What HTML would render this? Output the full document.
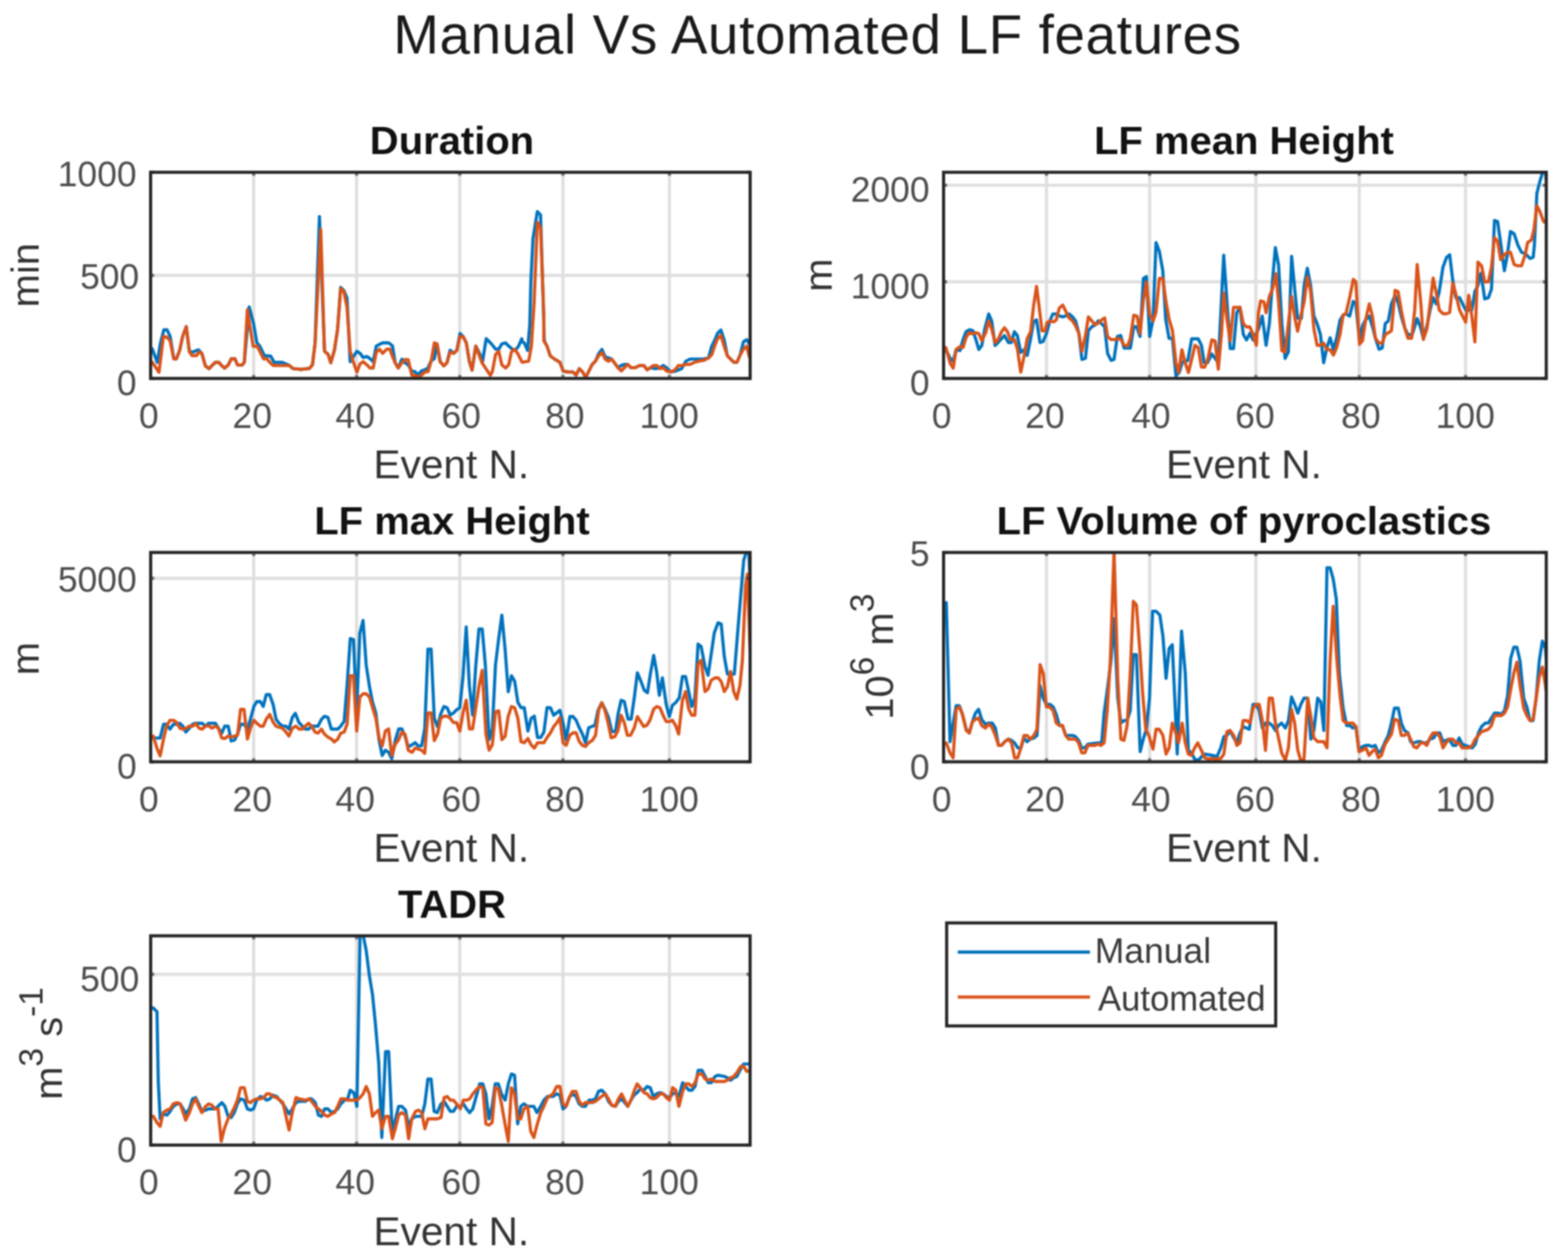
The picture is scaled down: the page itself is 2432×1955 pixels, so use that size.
<!DOCTYPE html>
<html><head><meta charset="utf-8"><title>Manual Vs Automated LF features</title>
<style>html,body{margin:0;padding:0;background:#fff;}svg{display:block;filter:blur(0.9px);}</style></head>
<body>
<svg width="2432" height="1955" viewBox="0 0 2432 1955">
<rect width="2432" height="1955" fill="#fff"/>
<defs>
<clipPath id="cp1"><rect x="233.6" y="267.3" width="929.9" height="319.90000000000003"/></clipPath>
<clipPath id="cp2"><rect x="1463.5" y="267.3" width="934.8000000000002" height="319.90000000000003"/></clipPath>
<clipPath id="cp3"><rect x="233.7" y="857.2" width="929.7" height="324.79999999999995"/></clipPath>
<clipPath id="cp4"><rect x="1463.5" y="857.2" width="934.8000000000002" height="324.79999999999995"/></clipPath>
<clipPath id="cp5"><rect x="233.7" y="1452.0" width="929.7" height="324.70000000000005"/></clipPath>
</defs>
<text x="1268" y="83" font-size="85" text-anchor="middle" font-weight="normal" fill="#1a1a1a" font-family="Liberation Sans, Arial, Helvetica, sans-serif" letter-spacing="1">Manual Vs Automated LF features</text>
<path d="M393.5 267.3V587.2M553.1 267.3V587.2M713.1 267.3V587.2M873.1 267.3V587.2M1038.3 267.3V587.2M233.6 427.3H1163.5" stroke="#262626" stroke-opacity="0.15" stroke-width="4.86" fill="none"/>
<g clip-path="url(#cp1)" fill="none" stroke-width="4.9" stroke-linejoin="round" stroke-linecap="round">
<path d="M236.2 541.4 L243.9 562.2 L248.7 533.1 L254.2 511.7 L259.1 511.7 L263.9 522.0 L269.5 556.7 L273.6 556.7 L278.5 544.2 L283.3 522.0 L288.9 506.8 L293.7 545.6 L299.3 546.3 L307.6 542.8 L313.1 548.4 L318.6 567.8 L324.2 571.9 L329.0 567.1 L333.9 562.2 L339.4 562.2 L343.6 567.1 L348.4 571.2 L354.0 566.4 L358.8 556.7 L364.3 556.7 L368.5 566.4 L375.4 566.4 L378.9 562.2 L386.5 476.3 L393.4 502.7 L398.3 531.7 L403.1 537.3 L410.1 551.8 L419.8 552.5 L425.3 562.2 L437.8 562.2 L448.8 567.1 L454.4 571.9 L468.2 573.3 L470.0 572.6 L479.7 571.8 L484.6 566.1 L488.7 532.0 L495.5 336.0 L503.3 545.0 L509.0 549.9 L513.0 562.9 L518.7 543.4 L523.6 510.9 L528.4 446.0 L533.3 450.8 L538.2 462.2 L543.1 561.2 L553.6 545.0 L558.5 548.2 L563.3 554.7 L569.0 553.1 L573.9 556.4 L578.8 561.2 L583.6 536.9 L593.4 532.0 L603.1 532.0 L608.8 536.9 L612.9 562.9 L617.7 571.0 L623.4 557.2 L628.3 562.9 L633.1 566.1 L638.8 575.8 L643.7 576.7 L648.6 581.5 L653.4 575.8 L663.2 571.8 L668.9 559.6 L673.7 556.4 L677.8 533.6 L682.7 561.2 L688.3 567.7 L693.2 562.9 L698.1 543.4 L703.8 548.2 L708.6 543.4 L713.5 517.4 L718.4 522.3 L723.2 532.0 L728.1 561.2 L732.2 574.2 L737.9 536.9 L744.4 549.9 L748.4 561.2 L754.1 525.5 L762.2 533.6 L768.7 541.8 L773.6 541.8 L778.4 533.6 L784.1 532.0 L789.0 536.9 L794.7 541.8 L799.5 543.4 L804.4 536.9 L809.3 525.5 L810.0 530.4 L813.3 532.1 L818.3 543.7 L821.7 503.7 L823.4 436.9 L826.7 370.1 L833.4 328.3 L838.4 333.4 L842.6 470.3 L844.2 528.7 L848.4 537.1 L853.4 552.1 L860.1 557.1 L868.4 562.1 L873.4 575.5 L880.1 577.1 L888.5 577.1 L893.5 582.1 L898.5 572.1 L903.5 577.1 L908.5 585.5 L913.5 575.5 L918.5 565.4 L923.5 560.4 L928.6 548.8 L933.6 542.1 L938.6 553.8 L943.6 555.4 L948.6 557.1 L953.6 563.8 L958.6 570.5 L963.6 567.1 L968.6 565.4 L973.6 565.4 L978.6 570.5 L985.3 570.5 L992.0 567.1 L998.7 567.1 L1003.7 573.8 L1008.7 570.5 L1017.0 572.1 L1023.7 570.5 L1028.7 567.1 L1033.7 570.5 L1040.4 577.1 L1048.8 575.5 L1057.1 572.1 L1063.8 560.4 L1070.5 557.1 L1080.5 557.1 L1090.5 557.1 L1098.9 555.4 L1103.9 537.1 L1108.9 527.0 L1113.1 517.0 L1118.1 512.0 L1123.1 527.0 L1128.1 552.1 L1133.1 557.1 L1138.1 562.1 L1143.1 562.1 L1148.1 550.4 L1153.1 530.4 L1158.1 527.0 L1162.3 533.7" stroke="#0072BD"/>
<path d="M236.2 562.2 L246.6 577.5 L253.5 522.0 L259.1 523.4 L263.9 529.0 L269.5 556.7 L273.6 556.7 L278.5 544.2 L283.3 522.0 L288.9 506.8 L293.7 545.6 L297.9 551.8 L304.8 551.8 L308.9 546.3 L313.1 548.4 L318.6 567.8 L324.2 571.9 L329.0 567.1 L333.9 562.2 L339.4 562.2 L343.6 567.1 L348.4 571.2 L354.0 566.4 L358.8 556.7 L364.3 556.7 L368.5 566.4 L375.4 566.4 L378.9 562.2 L383.7 480.5 L388.6 512.4 L392.7 537.3 L399.0 537.3 L403.8 547.0 L408.7 556.7 L414.2 556.7 L418.4 562.2 L423.9 567.1 L448.8 567.1 L454.4 571.9 L468.2 573.3 L470.0 572.6 L479.7 571.8 L484.6 566.1 L488.7 533.6 L497.5 356.0 L503.3 545.0 L509.0 549.9 L513.0 562.9 L518.7 543.4 L523.6 510.9 L528.4 447.6 L533.3 452.5 L538.2 476.8 L543.1 545.0 L547.9 561.2 L553.6 577.5 L558.5 564.5 L563.3 561.2 L569.0 566.1 L573.9 571.0 L578.8 571.0 L583.6 546.6 L588.5 541.8 L593.4 548.2 L599.9 541.8 L604.7 541.8 L608.8 553.1 L612.9 562.9 L617.7 571.0 L623.4 562.9 L628.3 558.0 L633.1 558.0 L638.8 582.3 L643.7 582.3 L648.6 585.6 L653.4 582.3 L659.9 576.7 L664.0 576.7 L668.9 559.6 L673.7 532.0 L677.8 533.6 L682.7 561.2 L688.3 567.7 L693.2 562.9 L698.1 546.6 L703.8 548.2 L708.6 543.4 L713.5 522.3 L718.4 522.3 L723.2 532.0 L728.1 561.2 L732.2 574.2 L737.9 536.9 L742.7 549.9 L747.6 562.9 L754.1 572.6 L760.6 582.3 L763.8 575.8 L768.7 549.9 L773.6 545.0 L778.4 566.1 L784.1 571.0 L789.0 566.1 L793.1 546.6 L797.9 541.8 L802.8 548.2 L809.3 561.2 L810.0 562.1 L820.0 560.4 L824.2 537.1 L828.4 470.3 L833.4 345.0 L838.4 353.4 L843.4 487.0 L843.4 528.7 L848.4 537.1 L853.4 552.1 L860.1 557.1 L868.4 562.1 L873.4 575.5 L880.1 577.1 L888.5 577.1 L893.5 582.1 L898.5 572.1 L903.5 577.1 L908.5 585.5 L913.5 575.5 L918.5 565.4 L923.5 560.4 L928.6 552.1 L933.6 547.1 L938.6 557.1 L943.6 560.4 L948.6 557.1 L953.6 563.8 L958.6 570.5 L963.6 575.5 L968.6 570.5 L973.6 565.4 L978.6 570.5 L985.3 570.5 L992.0 567.1 L998.7 567.1 L1003.7 573.8 L1008.7 570.5 L1013.7 567.1 L1018.7 567.1 L1023.7 572.1 L1028.7 570.5 L1033.7 575.5 L1040.4 577.1 L1047.1 573.8 L1052.1 567.1 L1058.8 567.1 L1063.8 565.4 L1070.5 565.4 L1077.2 562.1 L1083.8 560.4 L1092.2 558.8 L1098.9 555.4 L1103.9 550.4 L1108.9 535.4 L1113.1 525.4 L1118.1 520.4 L1123.1 537.1 L1128.1 552.1 L1133.1 557.1 L1138.1 562.1 L1143.1 562.1 L1148.1 550.4 L1153.1 542.1 L1158.1 537.1 L1162.3 553.8" stroke="#D95319"/>
</g>
<path d="M393.5 267.3v5.5M393.5 587.2v-5.5M553.1 267.3v5.5M553.1 587.2v-5.5M713.1 267.3v5.5M713.1 587.2v-5.5M873.1 267.3v5.5M873.1 587.2v-5.5M1038.3 267.3v5.5M1038.3 587.2v-5.5M233.6 267.3h5.5M1163.5 267.3h-5.5M233.6 427.3h5.5M1163.5 427.3h-5.5M233.6 587.2h5.5M1163.5 587.2h-5.5" stroke="#262626" stroke-opacity="0.6" stroke-width="4.86" fill="none"/>
<rect x="233.6" y="267.3" width="929.9" height="319.90000000000003" fill="none" stroke="#262626" stroke-width="4.86"/>
<text x="211.9" y="288.5" font-size="55" text-anchor="end" font-weight="normal" fill="#4d4d4d" font-family="Liberation Sans, Arial, Helvetica, sans-serif" >1000</text>
<text x="215.9" y="448.3" font-size="55" text-anchor="end" font-weight="normal" fill="#4d4d4d" font-family="Liberation Sans, Arial, Helvetica, sans-serif" >500</text>
<text x="211.9" y="612.5" font-size="55" text-anchor="end" font-weight="normal" fill="#4d4d4d" font-family="Liberation Sans, Arial, Helvetica, sans-serif" >0</text>
<text x="230.9" y="663.7" font-size="55" text-anchor="middle" font-weight="normal" fill="#4d4d4d" font-family="Liberation Sans, Arial, Helvetica, sans-serif" >0</text>
<text x="391.2" y="663.7" font-size="55" text-anchor="middle" font-weight="normal" fill="#4d4d4d" font-family="Liberation Sans, Arial, Helvetica, sans-serif" >20</text>
<text x="550.9" y="663.7" font-size="55" text-anchor="middle" font-weight="normal" fill="#4d4d4d" font-family="Liberation Sans, Arial, Helvetica, sans-serif" >40</text>
<text x="715.3" y="663.7" font-size="55" text-anchor="middle" font-weight="normal" fill="#4d4d4d" font-family="Liberation Sans, Arial, Helvetica, sans-serif" >60</text>
<text x="876" y="663.7" font-size="55" text-anchor="middle" font-weight="normal" fill="#4d4d4d" font-family="Liberation Sans, Arial, Helvetica, sans-serif" >80</text>
<text x="1038" y="663.7" font-size="55" text-anchor="middle" font-weight="normal" fill="#4d4d4d" font-family="Liberation Sans, Arial, Helvetica, sans-serif" >100</text>
<text x="700.05" y="742.2" font-size="63" text-anchor="middle" font-weight="normal" fill="#333" font-family="Liberation Sans, Arial, Helvetica, sans-serif" >Event N.</text>
<text x="701.05" y="238.8" font-size="62" text-anchor="middle" font-weight="bold" fill="#111" font-family="Liberation Sans, Arial, Helvetica, sans-serif" >Duration</text>
<text transform="translate(60 427) rotate(-90)" font-size="62" text-anchor="middle" fill="#333" font-family="Liberation Sans, Arial, Helvetica, sans-serif">min</text>
<path d="M1623.1 267.3V587.2M1783.1 267.3V587.2M1947.9 267.3V587.2M2108.3 267.3V587.2M2273.1 267.3V587.2M1463.5 287.4H2398.3M1463.5 437.3H2398.3" stroke="#262626" stroke-opacity="0.15" stroke-width="4.86" fill="none"/>
<g clip-path="url(#cp2)" fill="none" stroke-width="4.9" stroke-linejoin="round" stroke-linecap="round">
<path d="M1466.9 542.3 L1473.8 556.0 L1478.4 560.6 L1483.0 542.3 L1489.1 543.8 L1493.7 526.9 L1498.3 514.7 L1503.6 511.6 L1509.0 513.2 L1513.6 526.9 L1518.2 542.3 L1522.8 536.1 L1527.4 510.1 L1533.5 487.1 L1538.1 497.9 L1543.4 536.1 L1548.0 531.5 L1553.4 525.4 L1558.0 520.8 L1564.1 531.5 L1568.7 531.5 L1573.3 514.7 L1577.9 520.8 L1583.2 546.8 L1588.6 542.3 L1593.2 551.4 L1598.5 525.4 L1603.1 499.4 L1607.7 496.3 L1613.1 531.5 L1617.7 530.0 L1623.0 517.8 L1628.4 497.9 L1633.0 487.1 L1638.3 487.1 L1642.9 490.2 L1648.3 491.7 L1652.9 490.2 L1658.2 487.1 L1663.6 491.7 L1668.2 497.9 L1673.5 517.8 L1678.1 557.6 L1683.5 556.0 L1688.1 513.2 L1693.4 507.0 L1698.8 504.0 L1703.4 497.9 L1708.7 502.5 L1713.3 507.0 L1717.9 548.4 L1723.3 559.1 L1727.9 557.6 L1733.0 522.0 L1738.2 520.5 L1743.5 540.0 L1748.7 540.0 L1753.2 540.0 L1758.5 507.0 L1763.0 507.0 L1768.2 522.0 L1773.5 432.0 L1778.0 429.0 L1783.2 522.0 L1788.5 495.0 L1793.0 376.5 L1798.2 390.0 L1803.5 420.0 L1808.0 495.0 L1813.2 525.0 L1818.5 525.0 L1823.9 583.0 L1829.0 578.0 L1834.0 561.1 L1842.4 559.4 L1848.3 525.7 L1858.4 525.7 L1863.5 535.8 L1867.7 562.8 L1872.8 562.8 L1879.5 549.3 L1884.6 556.1 L1889.6 562.8 L1898.0 396.0 L1903.1 468.5 L1908.1 540.9 L1913.2 540.9 L1918.2 485.3 L1923.3 476.9 L1928.4 519.0 L1933.4 527.4 L1938.5 517.3 L1943.5 527.4 L1951.9 510.6 L1957.8 490.4 L1963.7 535.8 L1968.8 502.2 L1973.8 434.8 L1978.1 384.2 L1983.1 411.2 L1988.2 502.2 L1993.2 556.1 L1998.3 546.0 L2003.3 397.7 L2008.4 451.6 L2012.6 493.7 L2018.5 493.7 L2022.7 443.2 L2027.7 416.2 L2032.8 443.2 L2037.9 490.4 L2042.9 502.2 L2048.0 519.0 L2053.0 562.8 L2058.1 539.2 L2063.1 524.1 L2068.2 542.6 L2073.2 524.1 L2078.3 497.1 L2083.3 488.7 L2087.6 486.7 L2093.3 490.5 L2099.0 467.7 L2102.9 471.5 L2108.6 528.6 L2113.3 505.7 L2118.1 496.2 L2123.8 490.5 L2129.5 509.5 L2133.3 524.8 L2139.0 541.9 L2143.8 540.0 L2148.6 501.9 L2153.3 498.1 L2158.1 471.5 L2163.8 458.1 L2168.5 469.6 L2173.3 490.5 L2179.0 509.5 L2183.8 519.1 L2190.4 519.1 L2198.1 494.3 L2203.8 509.5 L2207.6 524.8 L2213.3 505.7 L2218.1 481.0 L2222.8 461.9 L2227.6 471.5 L2232.3 452.4 L2238.1 414.3 L2243.8 399.1 L2248.5 395.3 L2253.3 435.3 L2258.0 461.9 L2263.8 461.9 L2268.5 471.5 L2273.3 481.0 L2278.0 481.0 L2282.8 481.0 L2287.6 452.4 L2292.3 442.9 L2297.1 423.9 L2302.8 463.8 L2308.5 461.9 L2313.3 448.6 L2318.0 342.0 L2322.8 343.9 L2327.5 376.3 L2333.3 420.1 L2338.0 395.3 L2342.8 359.1 L2348.5 362.9 L2354.2 380.1 L2359.9 391.5 L2365.6 393.4 L2373.2 401.0 L2378.0 399.1 L2379.9 380.1 L2383.7 300.1 L2388.5 281.0 L2393.2 265.8 L2397.1 265.8 L2399.9 303.9" stroke="#0072BD"/>
<path d="M1466.9 539.2 L1473.8 563.7 L1478.4 571.3 L1483.0 542.3 L1489.1 537.7 L1493.7 539.2 L1498.3 523.9 L1502.9 516.2 L1509.0 517.8 L1513.6 516.2 L1518.2 517.8 L1522.8 528.5 L1528.9 516.2 L1533.5 497.9 L1538.1 510.1 L1543.4 531.5 L1548.0 526.9 L1553.4 514.7 L1558.0 508.6 L1562.6 514.7 L1567.1 526.9 L1573.3 526.9 L1577.9 540.7 L1583.2 577.5 L1588.6 551.4 L1593.2 525.4 L1598.5 514.7 L1603.1 474.9 L1607.7 444.3 L1613.1 487.1 L1616.1 513.2 L1620.7 513.2 L1623.8 500.9 L1628.4 497.9 L1634.5 499.4 L1638.3 496.3 L1642.9 478.0 L1648.3 473.4 L1652.9 482.6 L1658.2 493.3 L1663.6 497.9 L1668.2 505.5 L1673.5 517.8 L1678.1 545.3 L1683.5 520.8 L1688.1 491.7 L1693.4 497.9 L1698.8 504.0 L1704.1 500.9 L1708.7 496.3 L1713.3 493.3 L1717.9 522.4 L1723.3 526.9 L1729.4 526.9 L1733.0 525.0 L1738.2 526.5 L1743.5 535.5 L1748.7 537.0 L1753.2 525.0 L1758.5 489.0 L1763.7 490.5 L1768.2 517.5 L1773.5 465.0 L1778.0 438.0 L1783.2 487.5 L1788.5 498.0 L1793.0 484.5 L1798.2 432.0 L1803.5 432.0 L1808.0 465.0 L1813.2 495.0 L1818.5 513.0 L1823.9 562.8 L1828.1 578.0 L1833.2 542.6 L1838.2 562.8 L1843.3 578.0 L1848.3 557.7 L1853.4 535.8 L1858.4 539.2 L1863.5 569.5 L1868.6 569.5 L1873.6 556.1 L1879.5 527.4 L1884.6 529.1 L1889.6 572.9 L1894.7 515.6 L1898.0 455.0 L1903.1 495.4 L1908.1 529.1 L1913.2 476.9 L1918.2 476.9 L1923.3 476.9 L1928.4 502.2 L1933.4 507.2 L1938.5 507.2 L1943.5 519.0 L1948.6 535.8 L1951.9 485.3 L1955.3 466.8 L1960.4 468.5 L1963.7 485.3 L1968.8 460.0 L1973.8 448.2 L1978.9 424.7 L1983.1 468.5 L1988.2 544.3 L1993.2 546.0 L1998.3 502.2 L2003.3 460.0 L2008.4 493.7 L2012.6 513.9 L2017.6 490.4 L2022.7 468.5 L2027.7 429.7 L2032.8 451.6 L2037.9 510.6 L2042.9 535.8 L2048.0 535.8 L2053.0 532.5 L2058.1 542.6 L2063.1 542.6 L2068.2 551.0 L2073.2 539.2 L2078.3 519.0 L2083.3 488.7 L2087.6 486.7 L2093.3 461.9 L2099.0 433.4 L2102.9 437.2 L2108.6 534.3 L2113.3 528.6 L2118.1 496.2 L2123.8 471.5 L2128.6 490.5 L2133.3 524.8 L2139.0 532.4 L2143.8 532.4 L2148.6 519.1 L2158.1 513.4 L2163.8 450.5 L2168.5 452.4 L2173.3 481.0 L2179.0 509.5 L2183.8 524.8 L2189.5 524.8 L2194.3 481.0 L2198.1 410.5 L2203.8 471.5 L2207.6 526.7 L2213.3 509.5 L2218.1 471.5 L2222.8 431.5 L2227.6 454.3 L2232.3 481.0 L2238.1 486.7 L2243.8 486.7 L2248.5 484.8 L2253.3 439.1 L2258.0 456.2 L2263.8 481.0 L2268.5 490.5 L2273.3 500.0 L2278.0 458.1 L2282.8 490.5 L2287.6 530.5 L2292.3 406.7 L2298.0 412.4 L2302.8 437.2 L2308.5 437.2 L2313.3 414.3 L2318.0 368.6 L2322.8 374.3 L2327.5 402.9 L2333.3 395.3 L2338.0 391.5 L2342.8 391.5 L2348.5 410.5 L2354.2 412.4 L2359.9 412.4 L2365.6 395.3 L2369.4 376.3 L2375.2 372.4 L2379.0 357.2 L2383.7 319.1 L2388.5 328.6 L2394.2 343.9 L2399.0 345.8" stroke="#D95319"/>
</g>
<path d="M1623.1 267.3v5.5M1623.1 587.2v-5.5M1783.1 267.3v5.5M1783.1 587.2v-5.5M1947.9 267.3v5.5M1947.9 587.2v-5.5M2108.3 267.3v5.5M2108.3 587.2v-5.5M2273.1 267.3v5.5M2273.1 587.2v-5.5M1463.5 287.4h5.5M2398.3 287.4h-5.5M1463.5 437.3h5.5M2398.3 437.3h-5.5M1463.5 587.2h5.5M2398.3 587.2h-5.5" stroke="#262626" stroke-opacity="0.6" stroke-width="4.86" fill="none"/>
<rect x="1463.5" y="267.3" width="934.8000000000002" height="319.90000000000003" fill="none" stroke="#262626" stroke-width="4.86"/>
<text x="1441.8" y="313.3" font-size="55" text-anchor="end" font-weight="normal" fill="#4d4d4d" font-family="Liberation Sans, Arial, Helvetica, sans-serif" >2000</text>
<text x="1441.8" y="463.3" font-size="55" text-anchor="end" font-weight="normal" fill="#4d4d4d" font-family="Liberation Sans, Arial, Helvetica, sans-serif" >1000</text>
<text x="1441.8" y="612.5" font-size="55" text-anchor="end" font-weight="normal" fill="#4d4d4d" font-family="Liberation Sans, Arial, Helvetica, sans-serif" >0</text>
<text x="1460.6" y="663.7" font-size="55" text-anchor="middle" font-weight="normal" fill="#4d4d4d" font-family="Liberation Sans, Arial, Helvetica, sans-serif" >0</text>
<text x="1620.7" y="663.7" font-size="55" text-anchor="middle" font-weight="normal" fill="#4d4d4d" font-family="Liberation Sans, Arial, Helvetica, sans-serif" >20</text>
<text x="1785" y="663.7" font-size="55" text-anchor="middle" font-weight="normal" fill="#4d4d4d" font-family="Liberation Sans, Arial, Helvetica, sans-serif" >40</text>
<text x="1946.4" y="663.7" font-size="55" text-anchor="middle" font-weight="normal" fill="#4d4d4d" font-family="Liberation Sans, Arial, Helvetica, sans-serif" >60</text>
<text x="2110.7" y="663.7" font-size="55" text-anchor="middle" font-weight="normal" fill="#4d4d4d" font-family="Liberation Sans, Arial, Helvetica, sans-serif" >80</text>
<text x="2272.6" y="663.7" font-size="55" text-anchor="middle" font-weight="normal" fill="#4d4d4d" font-family="Liberation Sans, Arial, Helvetica, sans-serif" >100</text>
<text x="1929.4" y="742.2" font-size="63" text-anchor="middle" font-weight="normal" fill="#333" font-family="Liberation Sans, Arial, Helvetica, sans-serif" >Event N.</text>
<text x="1929.4" y="238.8" font-size="62" text-anchor="middle" font-weight="bold" fill="#111" font-family="Liberation Sans, Arial, Helvetica, sans-serif" >LF mean Height</text>
<text transform="translate(1290 427) rotate(-90)" font-size="62" text-anchor="middle" fill="#333" font-family="Liberation Sans, Arial, Helvetica, sans-serif">m</text>
<path d="M393.5 857.2V1182.0M553.1 857.2V1182.0M713.1 857.2V1182.0M873.1 857.2V1182.0M1038.3 857.2V1182.0M233.7 897.3H1163.4" stroke="#262626" stroke-opacity="0.15" stroke-width="4.86" fill="none"/>
<g clip-path="url(#cp3)" fill="none" stroke-width="4.9" stroke-linejoin="round" stroke-linecap="round">
<path d="M237.7 1145.1 L248.4 1145.1 L253.7 1123.7 L258.3 1123.7 L263.7 1131.3 L269.0 1123.7 L273.6 1123.7 L279.0 1122.2 L283.6 1126.7 L288.2 1135.9 L293.5 1129.8 L298.9 1123.7 L303.5 1122.2 L313.4 1122.2 L318.8 1126.7 L323.4 1122.2 L334.1 1122.2 L338.7 1129.8 L344.0 1137.5 L348.6 1126.7 L354.0 1126.7 L358.6 1149.7 L363.9 1148.2 L368.5 1139.0 L373.1 1123.7 L378.5 1123.7 L383.8 1131.3 L388.4 1116.0 L393.8 1096.1 L398.4 1088.5 L403.7 1088.5 L408.3 1096.1 L412.9 1077.8 L418.3 1077.8 L423.6 1093.1 L428.2 1116.0 L432.8 1122.2 L438.2 1126.7 L443.5 1126.7 L448.1 1131.3 L453.5 1113.0 L458.1 1106.8 L463.4 1120.6 L468.8 1126.7 L473.4 1131.3 L478.7 1131.3 L483.3 1126.7 L493.3 1126.7 L498.6 1116.0 L503.2 1111.4 L508.6 1113.0 L513.9 1131.3 L523.9 1131.3 L528.5 1126.7 L533.8 1119.1 L538.4 1062.5 L543.3 990.7 L548.2 992.4 L553.2 1102.9 L558.1 982.5 L563.1 962.7 L568.0 1032.0 L573.0 1065.0 L577.9 1089.7 L582.9 1106.2 L587.8 1147.5 L592.8 1172.2 L597.7 1164.0 L602.7 1167.3 L607.6 1177.2 L613.4 1147.5 L618.4 1131.0 L623.3 1131.0 L628.3 1142.5 L633.2 1159.0 L639.0 1155.7 L643.9 1152.4 L648.9 1157.4 L653.8 1157.4 L658.8 1131.0 L663.7 1007.2 L668.7 1007.2 L673.6 1114.5 L678.6 1127.7 L683.5 1107.9 L688.5 1096.3 L693.4 1098.0 L698.4 1109.5 L703.3 1106.2 L708.3 1101.3 L713.2 1098.0 L718.2 1048.5 L723.1 972.6 L728.1 1065.0 L733.0 1109.5 L738.0 1032.0 L742.9 975.9 L747.9 975.9 L752.8 1032.0 L758.6 1147.5 L763.6 1131.0 L768.5 1032.0 L773.5 990.7 L778.4 954.4 L783.4 1007.2 L788.3 1073.2 L793.3 1048.5 L798.2 1056.7 L803.2 1089.7 L808.1 1098.0 L813.1 1098.0 L818.8 1134.3 L823.8 1114.5 L828.7 1111.2 L833.7 1144.2 L838.6 1144.2 L843.6 1135.9 L848.5 1098.0 L853.9 1098.2 L858.7 1109.8 L863.6 1106.0 L868.4 1102.1 L873.3 1121.5 L878.1 1148.6 L883.9 1111.8 L888.8 1111.8 L893.6 1117.6 L898.5 1129.2 L903.3 1138.9 L908.2 1152.5 L913.0 1129.2 L917.9 1127.3 L922.7 1125.4 L927.6 1102.1 L933.4 1090.4 L939.2 1102.1 L944.0 1113.7 L948.9 1135.0 L954.7 1135.0 L958.6 1107.9 L963.4 1086.6 L968.3 1088.5 L974.1 1115.7 L979.0 1115.7 L983.8 1082.7 L988.6 1043.9 L993.5 1055.5 L999.3 1071.1 L1004.2 1074.9 L1009.0 1043.9 L1013.9 1016.8 L1018.7 1043.9 L1022.6 1078.8 L1027.4 1051.7 L1033.2 1092.4 L1038.1 1111.8 L1042.9 1094.3 L1047.8 1090.4 L1053.6 1082.7 L1058.5 1049.7 L1063.3 1049.7 L1068.2 1073.0 L1073.0 1096.3 L1077.8 1082.7 L1082.7 999.3 L1087.5 1003.2 L1093.4 1034.2 L1098.2 1047.8 L1103.1 1014.8 L1107.9 981.9 L1113.7 966.3 L1118.6 968.3 L1123.4 1018.7 L1128.3 1045.9 L1133.1 1045.9 L1138.9 1045.9 L1143.8 985.7 L1148.6 927.6 L1153.5 869.4 L1158.3 853.9 L1161.2 850.0 L1165.1 945.0" stroke="#0072BD"/>
<path d="M237.7 1142.1 L243.8 1162.0 L248.4 1172.7 L253.7 1146.6 L258.3 1126.7 L263.7 1117.6 L269.0 1117.6 L273.6 1120.6 L279.0 1129.8 L283.6 1131.3 L288.9 1129.8 L293.5 1126.7 L298.9 1126.7 L303.5 1122.9 L308.8 1129.8 L313.4 1131.3 L318.8 1126.7 L323.4 1126.0 L328.7 1129.8 L334.1 1126.7 L338.7 1129.8 L344.0 1145.1 L348.6 1145.9 L354.0 1142.1 L358.6 1143.6 L363.9 1142.1 L368.5 1140.5 L373.1 1100.7 L378.5 1100.7 L383.8 1146.6 L388.4 1129.8 L393.8 1117.6 L398.4 1122.2 L403.7 1126.7 L408.3 1126.7 L412.9 1116.0 L418.3 1108.4 L423.6 1120.6 L428.2 1126.7 L432.8 1128.3 L438.2 1129.8 L443.5 1135.9 L448.1 1142.1 L453.5 1129.8 L458.8 1126.7 L464.2 1131.3 L468.8 1131.3 L473.4 1126.7 L478.7 1122.2 L483.3 1126.7 L488.7 1135.9 L493.3 1137.5 L498.6 1131.3 L503.2 1139.0 L508.6 1143.6 L513.9 1146.6 L518.5 1151.2 L523.9 1146.6 L528.5 1137.5 L533.8 1135.9 L538.4 1123.7 L543.3 1048.5 L548.2 1048.5 L553.2 1134.3 L558.1 1081.5 L563.1 1076.5 L568.0 1076.5 L573.0 1081.5 L577.9 1098.0 L582.9 1114.5 L587.8 1144.2 L592.8 1157.4 L597.7 1134.3 L602.7 1131.0 L607.6 1172.2 L612.6 1155.7 L618.4 1147.5 L623.3 1135.9 L628.3 1139.2 L633.2 1164.0 L639.0 1167.3 L643.9 1160.7 L648.9 1162.3 L653.8 1164.0 L658.8 1168.9 L663.7 1106.2 L668.7 1106.2 L673.6 1149.1 L678.6 1139.2 L683.5 1114.5 L688.5 1111.2 L693.4 1111.2 L698.4 1114.5 L703.3 1121.1 L708.3 1121.1 L713.2 1134.3 L718.2 1106.2 L723.1 1086.4 L728.1 1131.0 L733.0 1131.0 L738.0 1098.0 L742.9 1065.0 L747.9 1040.2 L753.7 1139.2 L758.6 1164.0 L763.6 1155.7 L768.5 1104.6 L773.5 1102.9 L778.4 1147.5 L783.4 1142.5 L788.3 1111.2 L793.3 1096.3 L798.2 1098.0 L803.2 1114.5 L808.1 1150.8 L813.1 1152.4 L818.8 1145.8 L823.8 1155.7 L828.7 1160.7 L833.7 1152.4 L843.6 1152.4 L848.5 1144.2 L853.9 1137.0 L858.7 1127.3 L863.6 1121.5 L868.4 1113.7 L873.3 1152.5 L878.1 1156.4 L883.9 1140.9 L888.8 1137.0 L893.6 1137.0 L898.5 1150.6 L903.3 1156.4 L908.2 1158.3 L913.0 1152.5 L918.8 1148.6 L923.7 1140.9 L928.5 1102.1 L933.4 1090.4 L938.2 1102.1 L943.1 1121.5 L947.9 1144.7 L953.7 1142.8 L958.6 1133.1 L963.4 1109.8 L968.3 1121.5 L973.1 1140.9 L978.0 1140.9 L983.8 1129.2 L988.6 1111.8 L993.5 1119.5 L998.3 1127.3 L1003.2 1125.4 L1008.0 1117.6 L1013.9 1100.1 L1018.7 1096.3 L1023.6 1098.2 L1028.4 1109.8 L1033.2 1119.5 L1038.1 1119.5 L1042.9 1117.6 L1047.8 1125.4 L1052.6 1138.9 L1058.5 1086.6 L1063.3 1073.0 L1068.2 1100.1 L1073.0 1109.8 L1077.8 1109.8 L1082.7 1030.3 L1087.5 1024.5 L1093.4 1073.0 L1098.2 1069.1 L1103.1 1055.5 L1108.9 1051.7 L1113.7 1051.7 L1118.6 1057.5 L1123.4 1073.0 L1128.3 1065.2 L1133.1 1042.0 L1138.0 1073.0 L1142.8 1084.6 L1147.7 1063.3 L1151.5 1024.5 L1156.4 908.2 L1159.3 890.7 L1163.2 1005.1 L1165.1 1049.7" stroke="#D95319"/>
</g>
<path d="M393.5 857.2v5.5M393.5 1182.0v-5.5M553.1 857.2v5.5M553.1 1182.0v-5.5M713.1 857.2v5.5M713.1 1182.0v-5.5M873.1 857.2v5.5M873.1 1182.0v-5.5M1038.3 857.2v5.5M1038.3 1182.0v-5.5M233.7 897.3h5.5M1163.4 897.3h-5.5M233.7 1182.0h5.5M1163.4 1182.0h-5.5" stroke="#262626" stroke-opacity="0.6" stroke-width="4.86" fill="none"/>
<rect x="233.7" y="857.2" width="929.7" height="324.79999999999995" fill="none" stroke="#262626" stroke-width="4.86"/>
<text x="212.0" y="918" font-size="55" text-anchor="end" font-weight="normal" fill="#4d4d4d" font-family="Liberation Sans, Arial, Helvetica, sans-serif" >5000</text>
<text x="212.0" y="1207.5" font-size="55" text-anchor="end" font-weight="normal" fill="#4d4d4d" font-family="Liberation Sans, Arial, Helvetica, sans-serif" >0</text>
<text x="230.9" y="1258.5" font-size="55" text-anchor="middle" font-weight="normal" fill="#4d4d4d" font-family="Liberation Sans, Arial, Helvetica, sans-serif" >0</text>
<text x="391.2" y="1258.5" font-size="55" text-anchor="middle" font-weight="normal" fill="#4d4d4d" font-family="Liberation Sans, Arial, Helvetica, sans-serif" >20</text>
<text x="550.9" y="1258.5" font-size="55" text-anchor="middle" font-weight="normal" fill="#4d4d4d" font-family="Liberation Sans, Arial, Helvetica, sans-serif" >40</text>
<text x="715.3" y="1258.5" font-size="55" text-anchor="middle" font-weight="normal" fill="#4d4d4d" font-family="Liberation Sans, Arial, Helvetica, sans-serif" >60</text>
<text x="876" y="1258.5" font-size="55" text-anchor="middle" font-weight="normal" fill="#4d4d4d" font-family="Liberation Sans, Arial, Helvetica, sans-serif" >80</text>
<text x="1038" y="1258.5" font-size="55" text-anchor="middle" font-weight="normal" fill="#4d4d4d" font-family="Liberation Sans, Arial, Helvetica, sans-serif" >100</text>
<text x="700.0500000000001" y="1337.0" font-size="63" text-anchor="middle" font-weight="normal" fill="#333" font-family="Liberation Sans, Arial, Helvetica, sans-serif" >Event N.</text>
<text x="701.0500000000001" y="828.7" font-size="62" text-anchor="middle" font-weight="bold" fill="#111" font-family="Liberation Sans, Arial, Helvetica, sans-serif" >LF max Height</text>
<text transform="translate(60 1022) rotate(-90)" font-size="62" text-anchor="middle" fill="#333" font-family="Liberation Sans, Arial, Helvetica, sans-serif">m</text>
<path d="M1623.1 857.2V1182.0M1783.1 857.2V1182.0M1947.9 857.2V1182.0M2108.3 857.2V1182.0M2273.1 857.2V1182.0" stroke="#262626" stroke-opacity="0.15" stroke-width="4.86" fill="none"/>
<g clip-path="url(#cp4)" fill="none" stroke-width="4.9" stroke-linejoin="round" stroke-linecap="round">
<path d="M1467.7 934.9 L1473.5 1150.8 L1478.3 1121.9 L1483.1 1094.9 L1487.9 1094.9 L1492.8 1108.4 L1498.6 1131.5 L1503.4 1137.3 L1508.2 1119.9 L1513.0 1106.4 L1517.8 1100.7 L1522.6 1116.1 L1528.4 1123.8 L1533.2 1121.9 L1539.0 1121.9 L1543.8 1129.6 L1548.7 1156.5 L1553.5 1156.5 L1558.3 1150.8 L1564.1 1146.9 L1568.9 1148.8 L1573.7 1152.7 L1578.5 1160.4 L1583.4 1160.4 L1588.2 1145.0 L1593.0 1150.8 L1597.8 1146.9 L1603.6 1145.0 L1608.4 1141.1 L1613.2 1064.0 L1618.1 1083.3 L1622.9 1092.9 L1628.7 1092.9 L1633.5 1096.8 L1638.3 1108.4 L1643.1 1125.7 L1647.9 1125.7 L1652.8 1141.1 L1658.5 1141.1 L1663.4 1141.1 L1668.2 1143.1 L1673.0 1148.8 L1677.8 1160.4 L1682.6 1160.4 L1687.4 1154.6 L1702.9 1152.7 L1708.7 1152.7 L1712.5 1106.4 L1718.3 1064.0 L1723.1 1025.5 L1727.9 959.9 L1733.7 1083.3 L1738.5 1121.9 L1743.3 1118.0 L1748.2 1118.0 L1753.0 1102.6 L1757.8 1015.8 L1762.6 1015.8 L1768.4 1166.2 L1773.2 1146.9 L1778.0 1131.5 L1782.9 1083.3 L1787.7 948.4 L1793.1 948.4 L1798.9 954.2 L1803.7 986.9 L1808.6 1052.5 L1813.4 1006.2 L1818.2 1000.4 L1823.0 1102.6 L1825.9 1170.0 L1832.6 979.2 L1838.4 1044.8 L1843.2 1164.3 L1848.1 1168.1 L1852.9 1177.8 L1858.7 1179.7 L1867.3 1170.0 L1874.1 1171.0 L1879.9 1172.0 L1887.6 1173.9 L1893.4 1160.4 L1898.2 1143.1 L1903.0 1141.1 L1907.8 1133.4 L1913.6 1145.0 L1918.4 1152.7 L1923.2 1137.3 L1928.1 1127.6 L1932.9 1129.6 L1937.7 1131.5 L1943.5 1092.9 L1948.3 1092.9 L1953.1 1102.6 L1957.9 1129.6 L1962.8 1121.9 L1968.5 1121.9 L1973.4 1125.7 L1978.2 1133.4 L1983.0 1125.7 L1987.8 1121.9 L1993.6 1129.6 L1998.4 1118.0 L2003.2 1081.4 L2008.0 1092.9 L2012.9 1106.4 L2017.7 1092.9 L2022.5 1083.3 L2028.3 1083.3 L2033.1 1146.9 L2037.9 1133.4 L2043.7 1083.3 L2048.5 1089.1 L2053.3 1133.4 L2058.2 880.9 L2063.0 880.9 L2067.8 898.3 L2072.6 929.1 L2077.4 1044.8 L2083.2 1098.7 L2088.7 1125.7 L2093.5 1125.7 L2098.3 1129.6 L2103.1 1127.6 L2107.9 1166.2 L2112.8 1158.5 L2118.6 1156.5 L2123.4 1156.5 L2128.2 1158.5 L2133.0 1156.5 L2137.8 1168.1 L2142.6 1164.3 L2148.4 1150.8 L2153.2 1141.1 L2158.1 1121.9 L2162.9 1098.7 L2168.7 1098.7 L2173.5 1121.9 L2178.3 1133.4 L2184.1 1137.3 L2187.9 1150.8 L2192.8 1152.7 L2198.5 1150.8 L2203.4 1150.8 L2208.2 1152.7 L2213.0 1152.7 L2217.8 1146.9 L2223.6 1145.0 L2228.4 1137.3 L2233.2 1137.3 L2238.1 1150.8 L2242.9 1148.8 L2247.7 1146.9 L2253.5 1156.5 L2258.3 1156.5 L2263.1 1145.0 L2267.9 1154.6 L2272.8 1156.5 L2278.5 1158.5 L2283.4 1160.4 L2288.2 1154.6 L2293.0 1137.3 L2297.8 1127.6 L2303.6 1121.9 L2308.4 1121.9 L2313.2 1114.1 L2318.0 1106.4 L2322.9 1106.4 L2328.7 1108.4 L2333.5 1102.6 L2338.3 1079.4 L2343.1 1021.6 L2347.9 1004.3 L2352.7 1004.3 L2357.6 1025.5 L2363.3 1083.3 L2368.2 1096.8 L2373.0 1118.0 L2377.8 1118.0 L2382.6 1083.3 L2387.4 1025.5 L2392.3 994.6 L2397.1 1006.2 L2401.9 1073.7" stroke="#0072BD"/>
<path d="M1467.7 1152.7 L1473.5 1168.1 L1478.3 1175.8 L1483.1 1100.7 L1487.9 1096.8 L1492.8 1108.4 L1498.6 1133.4 L1503.4 1137.3 L1508.2 1119.9 L1513.0 1116.1 L1517.8 1114.1 L1522.6 1125.7 L1528.4 1129.6 L1533.2 1123.8 L1538.1 1127.6 L1543.8 1141.1 L1548.7 1156.5 L1553.5 1156.5 L1558.3 1150.8 L1564.1 1146.9 L1568.9 1152.7 L1573.7 1175.8 L1578.5 1175.8 L1583.4 1160.4 L1588.2 1141.1 L1593.0 1141.1 L1597.8 1146.9 L1603.6 1141.1 L1608.4 1131.5 L1613.2 1031.3 L1618.1 1044.8 L1622.9 1096.8 L1627.7 1096.8 L1633.5 1102.6 L1638.3 1121.9 L1643.1 1125.7 L1647.9 1125.7 L1652.8 1141.1 L1657.6 1146.9 L1663.4 1146.9 L1668.2 1146.9 L1673.0 1152.7 L1677.8 1168.1 L1682.6 1168.1 L1687.4 1156.5 L1693.2 1156.5 L1698.0 1156.5 L1702.9 1154.6 L1707.7 1156.5 L1712.5 1152.7 L1717.3 1102.6 L1722.1 1025.5 L1727.9 854.9 L1733.7 1054.4 L1738.5 1146.9 L1743.3 1148.8 L1748.2 1125.7 L1753.0 1044.8 L1757.8 933.0 L1762.6 938.7 L1768.4 1015.8 L1772.3 1075.6 L1777.1 1131.5 L1781.9 1141.1 L1788.3 1162.3 L1793.1 1131.5 L1797.9 1131.5 L1803.7 1141.1 L1808.6 1170.0 L1813.4 1160.4 L1818.2 1121.9 L1823.0 1135.3 L1827.8 1152.7 L1833.6 1121.9 L1838.4 1152.7 L1843.2 1170.0 L1848.1 1172.0 L1852.9 1160.4 L1857.7 1152.7 L1863.5 1164.3 L1868.3 1175.8 L1874.1 1177.8 L1878.9 1176.8 L1885.7 1177.8 L1893.4 1176.8 L1898.2 1170.0 L1903.0 1135.3 L1907.8 1133.4 L1913.6 1141.1 L1918.4 1156.5 L1923.2 1152.7 L1928.1 1118.0 L1933.8 1118.0 L1938.7 1121.9 L1943.5 1098.7 L1948.3 1092.9 L1953.1 1092.9 L1957.9 1118.0 L1962.8 1164.3 L1968.5 1083.3 L1973.4 1083.3 L1978.2 1121.9 L1983.0 1145.0 L1987.8 1168.1 L1993.6 1179.7 L1998.4 1160.4 L2003.2 1100.7 L2008.0 1121.9 L2012.9 1164.3 L2017.7 1180.6 L2022.5 1177.8 L2028.3 1083.3 L2033.1 1112.2 L2037.9 1145.0 L2043.7 1150.8 L2048.5 1150.8 L2053.3 1150.8 L2058.2 1160.4 L2063.0 1025.5 L2067.8 940.7 L2073.6 1025.5 L2078.4 1079.4 L2083.2 1118.0 L2088.7 1121.9 L2093.5 1121.9 L2098.3 1121.9 L2103.1 1127.6 L2107.9 1166.2 L2112.8 1164.3 L2118.6 1160.4 L2123.4 1172.0 L2128.2 1166.2 L2133.0 1162.3 L2137.8 1175.8 L2142.6 1172.0 L2148.4 1154.6 L2153.2 1146.9 L2158.1 1139.2 L2162.9 1116.1 L2168.7 1118.0 L2173.5 1141.1 L2178.3 1141.1 L2183.1 1137.3 L2187.9 1146.9 L2192.8 1158.5 L2197.6 1160.4 L2203.4 1152.7 L2208.2 1152.7 L2213.0 1156.5 L2217.8 1145.0 L2222.6 1137.3 L2228.4 1137.3 L2233.2 1143.1 L2238.1 1160.4 L2242.9 1152.7 L2247.7 1146.9 L2253.5 1146.9 L2258.3 1152.7 L2263.1 1152.7 L2267.9 1160.4 L2272.8 1160.4 L2278.5 1160.4 L2283.4 1156.5 L2288.2 1146.9 L2293.0 1141.1 L2297.8 1135.3 L2303.6 1133.4 L2308.4 1131.5 L2313.2 1125.7 L2318.0 1110.3 L2322.9 1110.3 L2328.7 1110.3 L2333.5 1106.4 L2338.3 1096.8 L2343.1 1069.8 L2347.9 1044.8 L2352.7 1027.4 L2357.6 1064.0 L2363.3 1098.7 L2368.2 1110.3 L2373.0 1118.0 L2377.8 1116.1 L2382.6 1083.3 L2387.4 1050.5 L2392.3 1035.1 L2397.1 1064.0 L2400.9 1092.9" stroke="#D95319"/>
</g>
<path d="M1623.1 857.2v5.5M1623.1 1182.0v-5.5M1783.1 857.2v5.5M1783.1 1182.0v-5.5M1947.9 857.2v5.5M1947.9 1182.0v-5.5M2108.3 857.2v5.5M2108.3 1182.0v-5.5M2273.1 857.2v5.5M2273.1 1182.0v-5.5M1463.5 857.2h5.5M2398.3 857.2h-5.5M1463.5 1182.0h5.5M2398.3 1182.0h-5.5" stroke="#262626" stroke-opacity="0.6" stroke-width="4.86" fill="none"/>
<rect x="1463.5" y="857.2" width="934.8000000000002" height="324.79999999999995" fill="none" stroke="#262626" stroke-width="4.86"/>
<text x="1441.8" y="878.3" font-size="55" text-anchor="end" font-weight="normal" fill="#4d4d4d" font-family="Liberation Sans, Arial, Helvetica, sans-serif" >5</text>
<text x="1441.8" y="1208.5" font-size="55" text-anchor="end" font-weight="normal" fill="#4d4d4d" font-family="Liberation Sans, Arial, Helvetica, sans-serif" >0</text>
<text x="1460.6" y="1258.5" font-size="55" text-anchor="middle" font-weight="normal" fill="#4d4d4d" font-family="Liberation Sans, Arial, Helvetica, sans-serif" >0</text>
<text x="1620.7" y="1258.5" font-size="55" text-anchor="middle" font-weight="normal" fill="#4d4d4d" font-family="Liberation Sans, Arial, Helvetica, sans-serif" >20</text>
<text x="1785" y="1258.5" font-size="55" text-anchor="middle" font-weight="normal" fill="#4d4d4d" font-family="Liberation Sans, Arial, Helvetica, sans-serif" >40</text>
<text x="1946.4" y="1258.5" font-size="55" text-anchor="middle" font-weight="normal" fill="#4d4d4d" font-family="Liberation Sans, Arial, Helvetica, sans-serif" >60</text>
<text x="2110.7" y="1258.5" font-size="55" text-anchor="middle" font-weight="normal" fill="#4d4d4d" font-family="Liberation Sans, Arial, Helvetica, sans-serif" >80</text>
<text x="2272.6" y="1258.5" font-size="55" text-anchor="middle" font-weight="normal" fill="#4d4d4d" font-family="Liberation Sans, Arial, Helvetica, sans-serif" >100</text>
<text x="1929.4" y="1337.0" font-size="63" text-anchor="middle" font-weight="normal" fill="#333" font-family="Liberation Sans, Arial, Helvetica, sans-serif" >Event N.</text>
<text x="1929.4" y="828.7" font-size="62" text-anchor="middle" font-weight="bold" fill="#111" font-family="Liberation Sans, Arial, Helvetica, sans-serif" >LF Volume of pyroclastics</text>
<text transform="translate(1385 1019) rotate(-90)" font-size="62" text-anchor="middle" fill="#333" font-family="Liberation Sans, Arial, Helvetica, sans-serif">10<tspan dy="-30" font-size="52">6</tspan><tspan dy="30"> m</tspan><tspan dy="-30" font-size="52">3</tspan></text>
<path d="M393.5 1452.0V1776.7M553.1 1452.0V1776.7M713.1 1452.0V1776.7M873.1 1452.0V1776.7M1038.3 1452.0V1776.7M233.7 1511.8H1163.4" stroke="#262626" stroke-opacity="0.15" stroke-width="4.86" fill="none"/>
<g clip-path="url(#cp5)" fill="none" stroke-width="4.9" stroke-linejoin="round" stroke-linecap="round">
<path d="M237.7 1563.9 L243.5 1569.7 L245.5 1678.0 L248.4 1736.0 L253.2 1728.2 L259.0 1730.2 L263.8 1724.4 L268.7 1716.6 L274.5 1712.8 L279.3 1712.8 L284.1 1720.5 L288.0 1728.2 L293.8 1720.5 L298.6 1705.0 L303.5 1703.1 L308.3 1712.8 L313.1 1724.4 L318.9 1722.4 L323.8 1720.5 L333.4 1720.5 L338.3 1716.6 L344.1 1710.8 L348.9 1716.6 L353.7 1732.1 L358.6 1734.0 L363.4 1726.3 L368.2 1712.8 L373.1 1705.0 L378.8 1707.0 L383.7 1720.5 L388.5 1722.4 L393.3 1720.5 L398.2 1707.0 L404.0 1701.2 L408.8 1703.1 L413.6 1707.0 L418.5 1705.0 L423.3 1699.2 L429.1 1701.2 L433.9 1707.0 L438.8 1712.8 L443.6 1720.5 L448.4 1728.2 L453.3 1720.5 L459.1 1710.8 L463.9 1708.9 L473.6 1708.9 L479.4 1705.0 L483.2 1705.0 L489.0 1710.8 L493.9 1730.2 L498.7 1732.1 L503.5 1720.5 L508.4 1720.5 L514.2 1726.3 L519.0 1724.4 L523.8 1720.5 L528.7 1712.8 L534.5 1707.0 L539.3 1705.0 L543.2 1691.5 L548.7 1695.4 L553.5 1716.6 L558.4 1451.8 L563.2 1450.8 L568.0 1475.0 L572.9 1513.7 L577.7 1542.7 L582.5 1591.0 L587.4 1649.0 L592.2 1765.0 L598.0 1631.6 L602.8 1631.6 L608.6 1761.1 L613.5 1736.0 L618.3 1716.6 L623.1 1716.6 L628.9 1722.4 L633.8 1747.6 L638.6 1736.0 L644.4 1732.1 L654.1 1732.1 L658.9 1712.8 L663.7 1674.1 L668.6 1674.1 L673.4 1724.4 L678.2 1726.3 L684.0 1712.8 L688.8 1708.9 L693.7 1716.6 L698.5 1724.4 L703.3 1724.4 L708.2 1716.6 L714.0 1716.6 L718.8 1712.8 L723.6 1720.5 L728.5 1726.3 L733.3 1720.5 L738.1 1703.1 L743.9 1681.8 L748.8 1681.8 L753.6 1697.3 L758.4 1736.0 L763.3 1716.6 L768.1 1681.8 L772.9 1681.8 L777.8 1697.3 L783.6 1707.0 L788.4 1681.8 L793.2 1666.4 L798.1 1668.3 L802.9 1743.7 L807.7 1716.6 L812.6 1712.8 L818.4 1716.6 L828.0 1716.6 L832.9 1726.3 L838.7 1716.6 L843.5 1707.0 L849.3 1701.2 L857.7 1701.2 L863.5 1697.3 L868.4 1699.2 L873.2 1720.5 L878.0 1716.6 L882.9 1703.1 L887.7 1697.3 L893.5 1701.2 L898.3 1712.8 L903.2 1716.6 L908.0 1716.6 L913.8 1707.0 L918.6 1707.0 L923.5 1705.0 L928.3 1693.4 L933.1 1691.5 L938.9 1697.3 L943.8 1708.9 L948.6 1714.7 L954.4 1716.6 L959.2 1708.9 L964.1 1705.0 L968.9 1710.8 L973.7 1716.6 L978.6 1707.0 L983.4 1699.2 L988.2 1695.4 L993.1 1689.6 L998.8 1691.5 L1003.7 1685.7 L1008.5 1687.6 L1013.3 1701.2 L1018.2 1697.3 L1024.0 1695.4 L1028.8 1697.3 L1033.6 1701.2 L1038.5 1703.1 L1043.3 1697.3 L1048.1 1695.4 L1053.0 1701.2 L1058.8 1679.9 L1063.6 1685.7 L1068.4 1691.5 L1073.3 1691.5 L1078.1 1685.7 L1082.9 1660.6 L1088.7 1660.6 L1093.6 1670.2 L1098.4 1679.9 L1103.2 1679.9 L1109.0 1670.2 L1113.9 1668.3 L1123.5 1670.2 L1128.4 1672.2 L1133.2 1676.0 L1138.0 1672.2 L1142.9 1670.2 L1148.7 1658.6 L1153.5 1650.9 L1164.1 1650.9" stroke="#0072BD"/>
<path d="M237.7 1732.1 L243.5 1741.8 L248.4 1747.6 L253.2 1726.3 L259.0 1722.4 L263.8 1720.5 L268.7 1712.8 L274.5 1710.8 L279.3 1712.8 L284.1 1726.3 L288.0 1737.9 L293.8 1726.3 L298.6 1712.8 L303.5 1705.0 L308.3 1716.6 L313.1 1726.3 L318.9 1716.6 L323.8 1712.8 L328.6 1714.7 L333.4 1720.5 L338.3 1720.5 L343.1 1770.8 L347.9 1751.4 L353.7 1736.0 L358.6 1728.2 L363.4 1718.6 L368.2 1707.0 L373.1 1687.6 L378.8 1687.6 L383.7 1708.9 L388.5 1710.8 L393.3 1707.0 L398.2 1705.0 L404.0 1705.0 L408.8 1703.1 L413.6 1697.3 L418.5 1697.3 L423.3 1701.2 L429.1 1703.1 L433.9 1707.0 L438.8 1710.8 L443.6 1732.1 L448.4 1753.4 L453.3 1726.3 L459.1 1703.1 L463.9 1705.0 L473.6 1707.0 L479.4 1705.0 L483.2 1708.9 L489.0 1716.6 L493.9 1720.5 L498.7 1724.4 L503.5 1730.2 L508.4 1732.1 L514.2 1728.2 L519.0 1726.3 L523.8 1716.6 L528.7 1705.0 L534.5 1705.0 L539.3 1707.0 L548.7 1707.0 L553.5 1707.0 L558.4 1703.1 L563.2 1697.3 L568.0 1685.7 L572.9 1697.3 L577.7 1732.1 L582.5 1726.3 L587.4 1722.4 L592.2 1751.4 L598.0 1732.1 L602.8 1732.1 L608.6 1766.9 L613.5 1749.5 L618.3 1730.2 L623.1 1726.3 L628.9 1730.2 L633.8 1766.9 L638.6 1736.0 L644.4 1724.4 L649.2 1722.4 L654.1 1726.3 L658.9 1751.4 L663.7 1736.0 L678.2 1736.0 L684.0 1734.0 L688.8 1703.1 L693.7 1701.2 L698.5 1707.0 L703.3 1707.0 L708.2 1712.8 L714.0 1720.5 L718.8 1707.0 L723.6 1707.0 L728.5 1705.0 L733.3 1697.3 L738.1 1691.5 L743.9 1685.7 L748.8 1687.6 L753.6 1743.7 L758.4 1745.6 L763.3 1741.8 L768.1 1687.6 L772.9 1689.6 L777.8 1712.8 L783.6 1745.6 L788.4 1770.8 L793.2 1687.6 L798.1 1697.3 L802.9 1736.0 L807.7 1736.0 L812.6 1720.5 L818.4 1716.6 L823.2 1755.3 L828.0 1765.0 L832.9 1745.6 L838.7 1726.3 L843.5 1716.6 L849.3 1703.1 L857.7 1697.3 L863.5 1685.7 L868.4 1685.7 L873.2 1712.8 L878.0 1716.6 L882.9 1703.1 L887.7 1693.4 L893.5 1693.4 L898.3 1708.9 L903.2 1714.7 L908.0 1710.8 L918.6 1710.8 L923.5 1708.9 L928.3 1705.0 L933.1 1701.2 L938.9 1697.3 L943.8 1705.0 L948.6 1714.7 L954.4 1716.6 L959.2 1705.0 L964.1 1697.3 L968.9 1707.0 L973.7 1716.6 L978.6 1707.0 L983.4 1693.4 L988.2 1681.8 L993.1 1687.6 L998.8 1695.4 L1003.7 1697.3 L1008.5 1703.1 L1013.3 1705.0 L1018.2 1703.1 L1024.0 1697.3 L1028.8 1697.3 L1033.6 1703.1 L1038.5 1707.0 L1043.3 1687.6 L1048.1 1691.5 L1053.0 1716.6 L1058.8 1693.4 L1063.6 1681.8 L1068.4 1681.8 L1073.3 1685.7 L1078.1 1679.9 L1082.9 1666.4 L1088.7 1666.4 L1093.6 1674.1 L1098.4 1676.0 L1103.2 1674.1 L1109.0 1678.0 L1123.5 1678.0 L1128.4 1676.0 L1133.2 1672.2 L1138.0 1670.2 L1142.9 1664.4 L1148.7 1654.8 L1153.5 1654.8 L1158.3 1662.5 L1164.1 1660.6" stroke="#D95319"/>
</g>
<path d="M393.5 1452.0v5.5M393.5 1776.7v-5.5M553.1 1452.0v5.5M553.1 1776.7v-5.5M713.1 1452.0v5.5M713.1 1776.7v-5.5M873.1 1452.0v5.5M873.1 1776.7v-5.5M1038.3 1452.0v5.5M1038.3 1776.7v-5.5M233.7 1511.8h5.5M1163.4 1511.8h-5.5M233.7 1776.7h5.5M1163.4 1776.7h-5.5" stroke="#262626" stroke-opacity="0.6" stroke-width="4.86" fill="none"/>
<rect x="233.7" y="1452.0" width="929.7" height="324.70000000000005" fill="none" stroke="#262626" stroke-width="4.86"/>
<text x="216.0" y="1538.3" font-size="55" text-anchor="end" font-weight="normal" fill="#4d4d4d" font-family="Liberation Sans, Arial, Helvetica, sans-serif" >500</text>
<text x="212.0" y="1803" font-size="55" text-anchor="end" font-weight="normal" fill="#4d4d4d" font-family="Liberation Sans, Arial, Helvetica, sans-serif" >0</text>
<text x="230.9" y="1853.2" font-size="55" text-anchor="middle" font-weight="normal" fill="#4d4d4d" font-family="Liberation Sans, Arial, Helvetica, sans-serif" >0</text>
<text x="391.2" y="1853.2" font-size="55" text-anchor="middle" font-weight="normal" fill="#4d4d4d" font-family="Liberation Sans, Arial, Helvetica, sans-serif" >20</text>
<text x="550.9" y="1853.2" font-size="55" text-anchor="middle" font-weight="normal" fill="#4d4d4d" font-family="Liberation Sans, Arial, Helvetica, sans-serif" >40</text>
<text x="715.3" y="1853.2" font-size="55" text-anchor="middle" font-weight="normal" fill="#4d4d4d" font-family="Liberation Sans, Arial, Helvetica, sans-serif" >60</text>
<text x="876" y="1853.2" font-size="55" text-anchor="middle" font-weight="normal" fill="#4d4d4d" font-family="Liberation Sans, Arial, Helvetica, sans-serif" >80</text>
<text x="1038" y="1853.2" font-size="55" text-anchor="middle" font-weight="normal" fill="#4d4d4d" font-family="Liberation Sans, Arial, Helvetica, sans-serif" >100</text>
<text x="700.0500000000001" y="1931.7" font-size="63" text-anchor="middle" font-weight="normal" fill="#333" font-family="Liberation Sans, Arial, Helvetica, sans-serif" >Event N.</text>
<text x="701.0500000000001" y="1423.5" font-size="62" text-anchor="middle" font-weight="bold" fill="#111" font-family="Liberation Sans, Arial, Helvetica, sans-serif" >TADR</text>
<text transform="translate(96 1619) rotate(-90)" font-size="62" text-anchor="middle" fill="#333" font-family="Liberation Sans, Arial, Helvetica, sans-serif">m<tspan dy="-30" font-size="52">3</tspan><tspan dy="30"> s</tspan><tspan dy="-30" font-size="52">-1</tspan></text>
<rect x="1468.3" y="1432" width="510.3" height="159.8" fill="#fff" stroke="#262626" stroke-width="4.86"/>
<path d="M1485.5 1477.3H1690.6" stroke="#0072BD" stroke-width="4.86"/>
<path d="M1485.5 1547H1690.6" stroke="#D95319" stroke-width="4.86"/>
<text x="1698" y="1493.5" font-size="55" text-anchor="start" font-weight="normal" fill="#3a3a3a" font-family="Liberation Sans, Arial, Helvetica, sans-serif" >Manual</text>
<text x="1703" y="1568" font-size="55" text-anchor="start" font-weight="normal" fill="#3a3a3a" font-family="Liberation Sans, Arial, Helvetica, sans-serif" textLength="260" lengthAdjust="spacingAndGlyphs">Automated</text>
</svg>
</body></html>
